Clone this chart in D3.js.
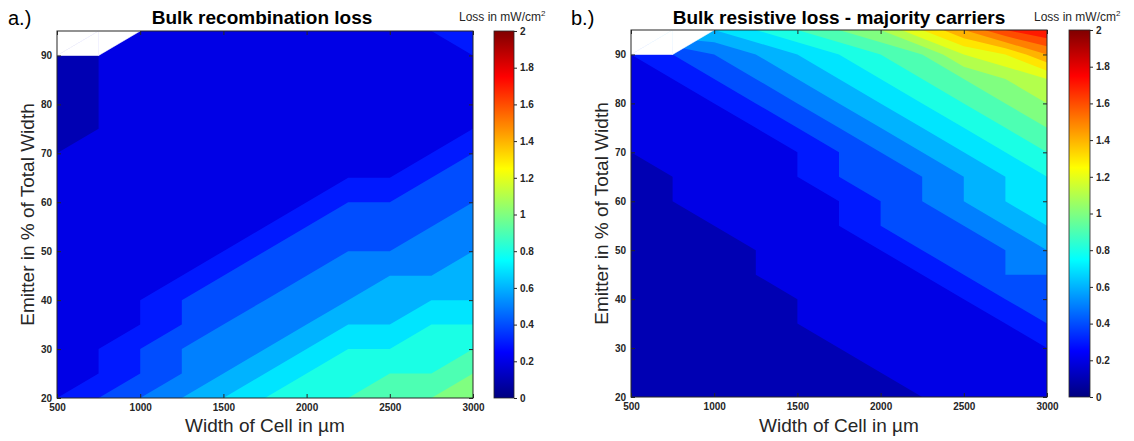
<!DOCTYPE html>
<html>
<head>
<meta charset="utf-8">
<script src="https://cdn.jsdelivr.net/npm/d3@7"></script>
<style>
  body { margin: 0; background: #fff; }
  svg text { font-family: "Liberation Sans", Arial, Helvetica, sans-serif; }
</style>
</head>
<body>
<svg id="fig" width="1134" height="441"></svg>
<script>
// Grid of the simulation: cell widths (µm) and emitter share (% of total width)
const cellWidths = [500, 750, 1000, 1250, 1500, 1750, 2000, 2250, 2500, 2750, 3000];
const emitterShares = [95, 90, 85, 80, 75, 70, 65, 60, 55, 50, 45, 40, 35, 30, 25, 20];

const xTicks = [500, 1000, 1500, 2000, 2500, 3000];
const yTicks = [20, 30, 40, 50, 60, 70, 80, 90];
const barTicks = [0, 0.2, 0.4, 0.6, 0.8, 1, 1.2, 1.4, 1.6, 1.8, 2];
const contourLevels = [0, 0.1, 0.2, 0.3, 0.4, 0.5, 0.6, 0.7, 0.8, 0.9, 1.0,
                       1.1, 1.2, 1.3, 1.4, 1.5, 1.6, 1.7, 1.8, 1.9, 2.0];

// Loss in mW/cm², one row per emitter share (top row = 95 %), null = not simulated
const recombinationLoss = [
  [null, null, 0.2, 0.2, 0.2, 0.2, 0.2, 0.2, 0.2, 0.3, 0.3],
  [0.1, 0.2, 0.2, 0.2, 0.2, 0.2, 0.2, 0.2, 0.2, 0.2, 0.3],
  [0.1, 0.2, 0.2, 0.2, 0.2, 0.2, 0.2, 0.2, 0.2, 0.2, 0.2],
  [0.1, 0.2, 0.2, 0.2, 0.2, 0.2, 0.2, 0.2, 0.2, 0.2, 0.2],
  [0.1, 0.2, 0.2, 0.2, 0.2, 0.2, 0.2, 0.2, 0.2, 0.2, 0.3],
  [0.2, 0.2, 0.2, 0.2, 0.2, 0.2, 0.2, 0.2, 0.2, 0.3, 0.4],
  [0.2, 0.2, 0.2, 0.2, 0.2, 0.2, 0.2, 0.3, 0.3, 0.4, 0.4],
  [0.2, 0.2, 0.2, 0.2, 0.2, 0.2, 0.3, 0.4, 0.4, 0.4, 0.5],
  [0.2, 0.2, 0.2, 0.2, 0.2, 0.3, 0.4, 0.4, 0.4, 0.5, 0.5],
  [0.2, 0.2, 0.2, 0.2, 0.3, 0.4, 0.4, 0.5, 0.5, 0.5, 0.6],
  [0.2, 0.2, 0.2, 0.3, 0.4, 0.4, 0.5, 0.5, 0.6, 0.6, 0.6],
  [0.2, 0.2, 0.3, 0.4, 0.4, 0.5, 0.5, 0.6, 0.6, 0.7, 0.7],
  [0.2, 0.2, 0.3, 0.4, 0.5, 0.5, 0.6, 0.7, 0.7, 0.8, 0.8],
  [0.2, 0.3, 0.4, 0.5, 0.5, 0.6, 0.7, 0.8, 0.8, 0.8, 0.9],
  [0.2, 0.3, 0.4, 0.5, 0.6, 0.7, 0.8, 0.8, 0.9, 0.9, 1.0],
  [0.3, 0.4, 0.5, 0.6, 0.7, 0.8, 0.8, 0.9, 0.9, 1.0, 1.0]
];

const resistiveLoss = [
  [null, null, 0.7, 0.8, 0.9, 1.0, 1.1, 1.3, 1.5, 1.7, 1.8],
  [0.3, 0.4, 0.5, 0.6, 0.7, 0.8, 0.9, 1.0, 1.2, 1.3, 1.5],
  [0.2, 0.3, 0.4, 0.5, 0.6, 0.7, 0.8, 0.9, 1.0, 1.1, 1.2],
  [0.2, 0.2, 0.3, 0.4, 0.5, 0.6, 0.7, 0.8, 0.9, 1.0, 1.1],
  [0.2, 0.2, 0.2, 0.3, 0.4, 0.5, 0.6, 0.7, 0.8, 0.9, 1.0],
  [0.2, 0.2, 0.2, 0.2, 0.3, 0.4, 0.5, 0.6, 0.7, 0.8, 0.9],
  [0.1, 0.2, 0.2, 0.2, 0.3, 0.4, 0.4, 0.5, 0.6, 0.7, 0.8],
  [0.1, 0.2, 0.2, 0.2, 0.2, 0.3, 0.4, 0.5, 0.6, 0.7, 0.7],
  [0.1, 0.1, 0.2, 0.2, 0.2, 0.3, 0.4, 0.4, 0.5, 0.6, 0.7],
  [0.1, 0.1, 0.1, 0.2, 0.2, 0.2, 0.3, 0.4, 0.4, 0.5, 0.6],
  [0.1, 0.1, 0.1, 0.2, 0.2, 0.2, 0.2, 0.3, 0.4, 0.5, 0.5],
  [0.1, 0.1, 0.1, 0.1, 0.2, 0.2, 0.2, 0.2, 0.3, 0.4, 0.4],
  [0.1, 0.1, 0.1, 0.1, 0.2, 0.2, 0.2, 0.2, 0.2, 0.3, 0.4],
  [0.1, 0.1, 0.1, 0.1, 0.1, 0.2, 0.2, 0.2, 0.2, 0.2, 0.3],
  [0.1, 0.1, 0.1, 0.1, 0.1, 0.1, 0.2, 0.2, 0.2, 0.2, 0.2],
  [0.1, 0.1, 0.1, 0.1, 0.1, 0.1, 0.1, 0.2, 0.2, 0.2, 0.2]
];

// Jet colormap, t in [0, 1]
function jet(t) {
  const c = v => Math.max(0, Math.min(1, v));
  return d3.rgb(
    Math.round(255 * c(Math.min(4 * t - 1.5, -4 * t + 4.5))),
    Math.round(255 * c(Math.min(4 * t - 0.5, -4 * t + 3.5))),
    Math.round(255 * c(Math.min(4 * t + 0.5, -4 * t + 2.5)))
  ).formatHex();
}
const color = d3.scaleSequential(jet).domain([0, 2]);

const svg = d3.select("#fig");
const ink = "#262626";

// vertical gradient shared by both colorbars
const defs = svg.append("defs");
const grad = defs.append("linearGradient")
  .attr("id", "jetGrad").attr("x1", 0).attr("y1", 1).attr("x2", 0).attr("y2", 0);
d3.range(0, 1.0001, 1 / 64).forEach(t => {
  grad.append("stop").attr("offset", t).attr("stop-color", jet(t));
});

function drawPanel(cfg) {
  const { left, top, width, height, values, title, tag, bar } = cfg;
  const nx = cellWidths.length, ny = emitterShares.length;
  const g = svg.append("g");

  const x = d3.scaleLinear().domain([d3.min(cellWidths), d3.max(cellWidths)]).range([left, left + width]);
  const y = d3.scaleLinear().domain([d3.min(emitterShares), d3.max(emitterShares)]).range([top + height, top]);

  // missing nodes take the nearest value to their right for contouring
  const grid = values.map(row => {
    const r = row.slice();
    for (let i = r.length - 1; i >= 0; i--) if (r[i] == null) r[i] = r[i + 1];
    return r;
  });

  // grid index space -> pixels (d3.contours places node i at i + 0.5)
  const gx = d3.scaleLinear().domain([0.5, nx - 0.5]).range([x(cellWidths[0]), x(cellWidths[nx - 1])]);
  const gy = d3.scaleLinear().domain([0.5, ny - 0.5]).range([y(emitterShares[0]), y(emitterShares[ny - 1])]);

  const clipId = "clip-" + tag;
  defs.append("clipPath").attr("id", clipId)
    .append("rect").attr("x", left).attr("y", top).attr("width", width).attr("height", height);

  const plot = g.append("g").attr("clip-path", `url(#${clipId})`);
  const bands = d3.contours().size([nx, ny]).thresholds(contourLevels)(grid.flat());
  const ringPath = ring => "M" + ring.map(p => gx(p[0]).toFixed(2) + "," + gy(p[1]).toFixed(2)).join("L") + "Z";
  bands.forEach(b => {
    const d = b.coordinates.map(poly => poly.map(ringPath).join("")).join("");
    if (d) plot.append("path").attr("d", d).attr("fill", color(b.value));
  });

  // blank out triangles that touch a missing node
  const node = (c, r) => [x(cellWidths[c]), y(emitterShares[r]), values[r][c]];
  for (let r = 0; r < ny - 1; r++) {
    for (let c = 0; c < nx - 1; c++) {
      const TL = node(c, r), TR = node(c + 1, r), BL = node(c, r + 1), BR = node(c + 1, r + 1);
      [[TL, BL, TR], [BL, BR, TR]].forEach(tri => {
        if (tri.some(p => p[2] == null)) {
          plot.append("polygon")
            .attr("points", tri.map(p => p[0] + "," + p[1]).join(" "))
            .attr("fill", "#fff").attr("stroke", "#fff").attr("stroke-width", 0.6);
        }
      });
    }
  }

  // axes with inward ticks on all four sides
  const tickFont = sel => sel.selectAll("text")
    .attr("font-size", 10).attr("font-weight", "bold").attr("fill", ink)
    .attr("font-family", "Liberation Sans, Arial, sans-serif");
  const style = sel => { sel.select(".domain").remove(); sel.selectAll("line").attr("stroke", ink); };

  g.append("g").attr("transform", `translate(0,${top + height})`)
    .call(d3.axisBottom(x).tickValues(xTicks).tickSizeInner(-4).tickSizeOuter(0).tickPadding(6).tickFormat(d3.format("d")))
    .call(style).call(tickFont);
  g.append("g").attr("transform", `translate(0,${top})`)
    .call(d3.axisTop(x).tickValues(xTicks).tickSizeInner(-4).tickSizeOuter(0).tickFormat(""))
    .call(style);
  g.append("g").attr("transform", `translate(${left},0)`)
    .call(d3.axisLeft(y).tickValues(yTicks).tickSizeInner(-4).tickSizeOuter(0).tickPadding(5).tickFormat(d3.format("d")))
    .call(style).call(tickFont);
  g.append("g").attr("transform", `translate(${left + width},0)`)
    .call(d3.axisRight(y).tickValues(yTicks).tickSizeInner(-4).tickSizeOuter(0).tickFormat(""))
    .call(style);

  g.append("rect").attr("x", left).attr("y", top).attr("width", width).attr("height", height)
    .attr("fill", "none").attr("stroke", ink).attr("stroke-width", 1);

  // titles and axis labels
  g.append("text").attr("x", cfg.titleX).attr("y", 24).attr("text-anchor", "middle")
    .attr("font-size", 19).attr("font-weight", "bold").attr("fill", "#000").text(title);
  g.append("text").attr("x", cfg.tagX).attr("y", 25)
    .attr("font-size", 20).attr("fill", "#000").text(tag + ".)");
  g.append("text").attr("x", left + width / 2).attr("y", 432).attr("text-anchor", "middle")
    .attr("font-size", 19).attr("fill", ink).text("Width of Cell in µm");
  g.append("text").attr("transform", `translate(${left - 23},${top + height / 2}) rotate(-90)`)
    .attr("text-anchor", "middle").attr("font-size", 19).attr("fill", ink)
    .text("Emitter in % of Total Width");

  // colorbar
  const cb = d3.scaleLinear().domain([0, 2]).range([top + height, top]);
  g.append("rect").attr("x", bar.x).attr("y", top).attr("width", bar.w).attr("height", height)
    .attr("fill", "url(#jetGrad)").attr("stroke", ink).attr("stroke-width", 0.8);
  g.append("g").attr("transform", `translate(${bar.x + bar.w},0)`)
    .call(d3.axisRight(cb).tickValues(barTicks).tickSizeInner(3).tickSizeOuter(0).tickPadding(3).tickFormat(d3.format("~g")))
    .call(style).call(tickFont);

  const lbl = g.append("text").attr("x", bar.labelX).attr("y", 21).attr("font-size", 12).attr("fill", ink);
  lbl.append("tspan").text("Loss in mW/cm");
  lbl.append("tspan").attr("dy", -5).attr("font-size", 8).text("2");
}

drawPanel({
  left: 57, top: 31, width: 416, height: 367,
  values: recombinationLoss, title: "Bulk recombination loss", tag: "a",
  titleX: 262, tagX: 8, bar: { x: 494, w: 20, labelX: 459 }
});
drawPanel({
  left: 631, top: 30, width: 416, height: 367,
  values: resistiveLoss, title: "Bulk resistive loss - majority carriers", tag: "b",
  titleX: 839, tagX: 571, bar: { x: 1069, w: 21, labelX: 1034 }
});
</script>
</body>
</html>
